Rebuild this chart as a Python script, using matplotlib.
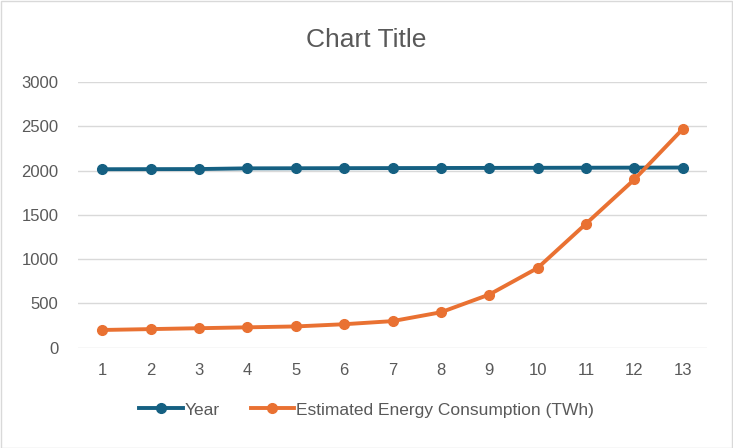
import matplotlib
matplotlib.use("Agg")
import matplotlib.pyplot as plt
from matplotlib.patches import Rectangle

categories = list(range(1, 14))
year = [2015, 2016, 2017, 2025, 2026, 2027, 2028, 2029, 2030, 2031, 2032, 2033, 2034]
energy = [200, 210, 220, 230, 240, 265, 300, 400, 600, 900, 1400, 1900, 2470]
yticks = [0, 500, 1000, 1500, 2000, 2500, 3000]

plt.rcParams['font.family'] = ['Liberation Sans', 'DejaVu Sans']
fig = plt.figure(figsize=(7.33, 4.48), dpi=100)
ax = fig.add_axes([78/733, 1-347.7/448, 629/733, (347.7-82)/448])

blue = '#156082'
orange = '#E97132'
grey = '#595959'

ax.plot(categories, year, color=blue, lw=2.8, marker='o', ms=7, label='Year', zorder=3)
ax.plot(categories, energy, color=orange, lw=2.8, marker='o', ms=7,
        label='Estimated Energy Consumption (TWh)', zorder=4)

ax.set_xlim(0.5, 13.5)
ax.set_ylim(0, 3000)
ax.set_yticks(yticks)
ax.set_xticks(categories)
ax.grid(axis='y', color='#d9d9d9', lw=1)
ax.set_axisbelow(True)
for s in ax.spines.values():
    s.set_visible(False)
ax.tick_params(length=0, colors=grey, labelsize=12)
ax.tick_params(axis='y', pad=14)
ax.tick_params(axis='x', pad=11)

fig.text(0.5, 1-40/448, 'Chart Title', ha='center', va='center', fontsize=19, color=grey)

leg = fig.legend(loc='center', bbox_to_anchor=(0.5, 1-410/448), ncol=2, frameon=False,
                 fontsize=12.5, labelcolor=grey, handlelength=2.5, columnspacing=1.8,
                 handletextpad=0.1)

fig.patches.append(Rectangle((0.5/733, 0.5/448), 1-1.5/733, 1-1.5/448, transform=fig.transFigure,
                             fill=False, edgecolor='#d9d9d9', lw=1))

fig.savefig('out.png', dpi=100)
